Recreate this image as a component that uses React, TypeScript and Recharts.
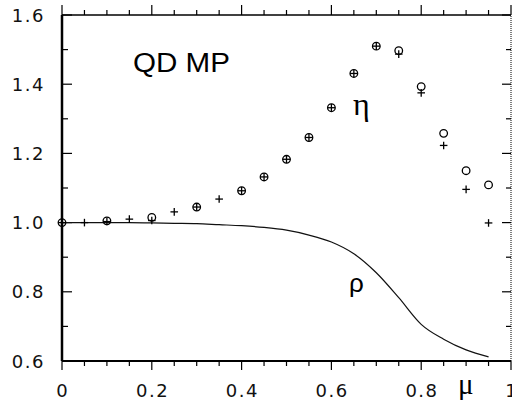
import React from "react";
import { ComposedChart, XAxis, YAxis, Line, Scatter, ReferenceLine } from "recharts";

// mu values for open circles (eta, method 1)
const muCircle = [0, 0.1, 0.2, 0.3, 0.4, 0.45, 0.5, 0.55, 0.6, 0.65, 0.7, 0.75, 0.8, 0.85, 0.9, 0.95];
const etaCircle = [1.0, 1.005, 1.015, 1.045, 1.092, 1.132, 1.183, 1.246, 1.332, 1.431, 1.51, 1.497, 1.393, 1.258, 1.15, 1.109];

// mu values for crosses (eta, method 2)
const muCross = [0, 0.05, 0.1, 0.15, 0.2, 0.25, 0.3, 0.35, 0.4, 0.45, 0.5, 0.55, 0.6, 0.65, 0.7, 0.75, 0.8, 0.85, 0.9, 0.95];
const etaCross = [1.0, 1.0, 1.003, 1.01, 1.006, 1.031, 1.045, 1.068, 1.092, 1.132, 1.183, 1.246, 1.332, 1.431, 1.51, 1.487, 1.375, 1.223, 1.096, 0.999];

// rho curve
const muRho = [0, 0.05, 0.1, 0.15, 0.2, 0.25, 0.3, 0.35, 0.4, 0.45, 0.5, 0.55, 0.6, 0.65, 0.7, 0.75, 0.8, 0.85, 0.9, 0.95];
const rho = [1.0, 1.0, 1.0, 1.0, 0.999, 0.998, 0.997, 0.994, 0.991, 0.986, 0.978, 0.964, 0.944, 0.91, 0.855, 0.783, 0.706, 0.663, 0.632, 0.612];

// axis ticks
const xTicks = [0, 0.05, 0.1, 0.15, 0.2, 0.25, 0.3, 0.35, 0.4, 0.45, 0.5, 0.55, 0.6, 0.65, 0.7, 0.75, 0.8, 0.85, 0.9, 0.95, 1];
const yTicks = [0.6, 0.7, 0.8, 0.9, 1.0, 1.1, 1.2, 1.3, 1.4, 1.5, 1.6];
const xMajor = [0, 0.2, 0.4, 0.6, 0.8, 1];
const xMajorLabels = ["0", "0.2", "0.4", "0.6", "0.8", "1"];
const yMajor = [0.6, 0.8, 1.0, 1.2, 1.4, 1.6];
const yMajorLabels = ["0.6", "0.8", "1.0", "1.2", "1.4", "1.6"];
const X_MIN = 0;
const X_MAX = 1;
const Y_MIN = 0.6;
const Y_MAX = 1.6;

const circleData = muCircle.map((x, i) => ({ x, y: etaCircle[i] }));
const crossData = muCross.map((x, i) => ({ x, y: etaCross[i] }));
const rhoData = muRho.map((x, i) => ({ x, y: rho[i] }));

const near = (a: number, b: number) => Math.abs(a - b) < 1e-6;
const majorIndex = (arr: number[], v: number) => arr.findIndex((m) => near(m, v));
const xMinor = xTicks.filter((v) => majorIndex(xMajor, v) < 0);
const yMinor = yTicks.filter((v) => majorIndex(yMajor, v) < 0);

const labelFont = { fontFamily: "DejaVu Sans", fontSize: 18, letterSpacing: 1.5, fill: "#111" };

const LeftLabel = (props: any) => {
  const { x, y, payload } = props;
  const mi = majorIndex(yMajor, payload.value);
  if (mi < 0) return <g />;
  return (
    <text x={x - 17} y={y + 6.5} textAnchor="end" {...labelFont}>
      {yMajorLabels[mi]}
    </text>
  );
};

const BottomLabel = (props: any) => {
  const { x, y, payload } = props;
  const mi = majorIndex(xMajor, payload.value);
  if (mi < 0) return <g />;
  return (
    <text x={x + 0.75} y={y + 36} textAnchor="middle" {...labelFont}>
      {xMajorLabels[mi]}
    </text>
  );
};

// Reference-line shapes: the library hands over the full line's end points;
// only short tick marks are drawn at the two frame edges.
const W = 1.2;
const XMajorTick = (props: any) => {
  const { x1, y1, y2 } = props;
  const top = Math.min(y1, y2);
  const bottom = Math.max(y1, y2);
  return (
    <g fill="#000">
      <rect x={x1 - W / 2} y={bottom} width={W} height={9} />
      <rect x={x1 - W / 2} y={top - 10} width={W} height={10} />
    </g>
  );
};
const XMinorTick = (props: any) => {
  const { x1, y1, y2 } = props;
  const top = Math.min(y1, y2);
  const bottom = Math.max(y1, y2);
  return (
    <g fill="#000">
      <rect x={x1 - W / 2} y={bottom} width={W} height={5} />
      <rect x={x1 - W / 2} y={top - 5} width={W} height={5} />
    </g>
  );
};
const YMajorTick = (props: any) => {
  const { x1, x2, y1 } = props;
  const left = Math.min(x1, x2);
  const right = Math.max(x1, x2);
  return (
    <g fill="#000">
      <rect x={left} y={y1 - W / 2} width={10} height={W} />
      <rect x={right - 9} y={y1 - W / 2} width={9} height={W} />
    </g>
  );
};
const YMinorTick = (props: any) => {
  const { x1, x2, y1 } = props;
  const left = Math.min(x1, x2);
  const right = Math.max(x1, x2);
  return (
    <g fill="#000">
      <rect x={left} y={y1 - W / 2} width={6} height={W} />
      <rect x={right - 5} y={y1 - W / 2} width={5} height={W} />
    </g>
  );
};

const CircleShape = (props: any) => {
  const { cx, cy } = props;
  return <circle cx={cx} cy={cy} r={3.8} fill="none" stroke="#000" strokeWidth={1.3} />;
};

const CrossShape = (props: any) => {
  const { cx, cy } = props;
  const h = 3.8;
  return (
    <g stroke="#000" strokeWidth={1.3}>
      <line x1={cx - h} x2={cx + h} y1={cy} y2={cy} />
      <line x1={cx} x2={cx} y1={cy - h} y2={cy + h} />
    </g>
  );
};

export default function App() {
  return (
    <div style={{ position: "absolute", left: 0, top: 0, width: 512, height: 402, background: "#fff" }}>
      <ComposedChart width={512} height={402} margin={{ top: 15, right: 1, bottom: 0, left: 0 }}>
        <XAxis
          xAxisId={0}
          dataKey="x"
          type="number"
          domain={[X_MIN, X_MAX]}
          ticks={xMajor}
          interval={0}
          height={41}
          tickSize={0}
          tickMargin={0}
          tickLine={false}
          tick={<BottomLabel />}
          axisLine={{ stroke: "#000", strokeWidth: 2 }}
        />
        <YAxis
          yAxisId={0}
          dataKey="y"
          type="number"
          domain={[Y_MIN, Y_MAX]}
          ticks={yMajor}
          interval={0}
          width={62}
          tickSize={0}
          tickMargin={0}
          tickLine={false}
          tick={<LeftLabel />}
          axisLine={{ stroke: "#000", strokeWidth: 2.5 }}
        />
        <ReferenceLine y={Y_MAX} stroke="#000" strokeWidth={1.6} />
        <ReferenceLine x={X_MAX} stroke="#000" strokeWidth={1} strokeDasharray="1 1" />
        {xMajor.map((v) => (
          <ReferenceLine key={"xM" + v} x={v} shape={<XMajorTick />} />
        ))}
        {xMinor.map((v) => (
          <ReferenceLine key={"xm" + v} x={v} shape={<XMinorTick />} />
        ))}
        {yMajor.map((v) => (
          <ReferenceLine key={"yM" + v} y={v} shape={<YMajorTick />} />
        ))}
        {yMinor.map((v) => (
          <ReferenceLine key={"ym" + v} y={v} shape={<YMinorTick />} />
        ))}
        <Line data={rhoData} dataKey="y" type="monotone" dot={false} stroke="#111" strokeWidth={1.2} isAnimationActive={false} />
        <Scatter data={circleData} dataKey="y" shape={<CircleShape />} isAnimationActive={false} />
        <Scatter data={crossData} dataKey="y" shape={<CrossShape />} isAnimationActive={false} />
      </ComposedChart>
      <svg width={512} height={402} style={{ position: "absolute", left: 0, top: 0, pointerEvents: "none" }}>
        <text x={133} y={72} fontFamily="Liberation Sans" fontSize={27} textLength={97} lengthAdjust="spacingAndGlyphs" fill="#000">
          QD MP
        </text>
        <text x={353} y={115} fontFamily="Liberation Serif" fontSize={32} fill="#000">η</text>
        <text x={349} y={291.5} fontFamily="Liberation Sans" fontSize={26} fill="#000">ρ</text>
        <text x={458} y={394} fontFamily="Liberation Serif" fontSize={29} fill="#000">μ</text>
      </svg>
    </div>
  );
}
